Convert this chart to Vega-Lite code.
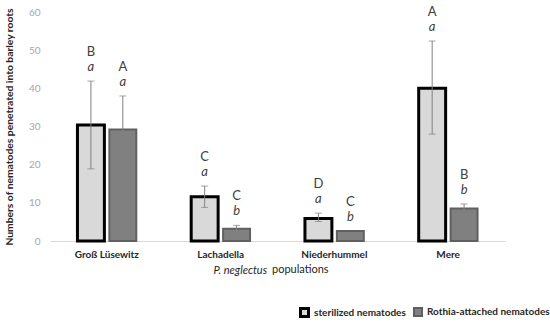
{
  "$schema": "https://vega.github.io/schema/vega-lite/v6.json",
  "width": 455,
  "height": 229,
  "autosize": {"type": "none"},
  "padding": {"left": 50, "top": 12, "right": 45, "bottom": 87},
  "config": {
    "view": {"stroke": null}, "font": "Lato",
    "axisY": {
      "title": "Numbers of nematodes penetrated into barley roots", "values": [0, 10, 20, 30, 40, 50, 60],
      "domain": false, "ticks": false, "grid": false, "labelColor": "#a6a6a6", "labelFontSize": 10,
      "labelPadding": 10, "titleFontSize": 10.3, "titleFontWeight": "bold", "titleColor": "#262626", "titlePadding": 14
    }
  },
  "title": {"text": "populations", "orient": "bottom", "anchor": "start", "frame": "group", "dx": 222, "dy": -63, "fontSize": 11, "fontWeight": "normal", "color": "#262626", "font": "Lato"},
  "data": {"values": [
    {"pop": "Groß Lüsewitz", "type": "sterilized nematodes", "mean": 30.4, "lo": 18.9, "hi": 41.9, "up": "B", "low": "a"},
    {"pop": "Groß Lüsewitz", "type": "Rothia-attached nematodes", "mean": 29.2, "lo": 20.9, "hi": 38, "up": "A", "low": "a"},
    {"pop": "Lachadella", "type": "sterilized nematodes", "mean": 11.6, "lo": 8.8, "hi": 14.4, "up": "C", "low": "a"},
    {"pop": "Lachadella", "type": "Rothia-attached nematodes", "mean": 3.2, "lo": 2.3, "hi": 4.1, "up": "C", "low": "b"},
    {"pop": "Niederhummel", "type": "sterilized nematodes", "mean": 5.9, "lo": 5.1, "hi": 7.3, "up": "D", "low": "a"},
    {"pop": "Niederhummel", "type": "Rothia-attached nematodes", "mean": 2.6, "lo": 2.6, "hi": 2.6, "up": "C", "low": "b"},
    {"pop": "Mere", "type": "sterilized nematodes", "mean": 40, "lo": 28, "hi": 52.4, "up": "A", "low": "a"},
    {"pop": "Mere", "type": "Rothia-attached nematodes", "mean": 8.5, "lo": 7.3, "hi": 9.7, "up": "B", "low": "b"}
  ]},
  "encoding": {
    "x": {
      "field": "pop", "type": "nominal",
      "sort": ["Groß Lüsewitz", "Lachadella", "Niederhummel", "Mere"],
      "scale": {"paddingInner": 0, "paddingOuter": 0},
      "axis": {
        "title": "P. neglectus", "titleFontStyle": "italic", "titleFontWeight": "normal", "titleFontSize": 11,
        "titleColor": "#262626", "titleAlign": "left", "titleX": 163, "titleY": 29, "titleBaseline": "middle",
        "domainColor": "#d9d9d9", "ticks": false, "labelAngle": 0, "labelFontWeight": "bold",
        "labelFontSize": 10, "labelColor": "#262626", "labelPadding": 8
      }
    },
    "xOffset": {
      "field": "type", "type": "nominal",
      "sort": ["sterilized nematodes", "Rothia-attached nematodes"],
      "scale": {"paddingInner": 0.156, "paddingOuter": 0.86}
    }
  },
  "layer": [
    {
      "mark": {"type": "bar"},
      "encoding": {
        "y": {"field": "mean", "type": "quantitative", "scale": {"domain": [0, 60]}, "title": "Numbers of nematodes penetrated into barley roots"},
        "fill": {
          "field": "type", "type": "nominal",
          "sort": ["sterilized nematodes", "Rothia-attached nematodes"],
          "scale": {"domain": ["sterilized nematodes", "Rothia-attached nematodes"], "range": ["#d9d9d9", "#808080"]},
          "legend": {
            "orient": "none", "legendX": 249, "legendY": 295, "direction": "horizontal", "title": null,
            "symbolType": "square", "symbolSize": 64, "labelFontSize": 10, "labelFontWeight": "bold",
            "labelColor": "#262626", "columnPadding": 4, "labelOffset": 4, "gridAlign": "none", "labelLimit": 300
          }
        },
        "stroke": {
          "field": "type", "type": "nominal",
          "scale": {"domain": ["sterilized nematodes", "Rothia-attached nematodes"], "range": ["#000000", "#606060"]}
        },
        "strokeWidth": {
          "field": "type", "type": "nominal",
          "scale": {"domain": ["sterilized nematodes", "Rothia-attached nematodes"], "range": [3, 2]}
        }
      }
    },
    {
      "transform": [{"filter": "datum.hi > datum.lo"}],
      "mark": {"type": "rule", "color": "#808080", "strokeWidth": 1},
      "encoding": {"y": {"field": "lo", "type": "quantitative", "title": "Numbers of nematodes penetrated into barley roots"}, "y2": {"field": "hi"}}
    },
    {
      "transform": [{"filter": "datum.hi > datum.lo"}],
      "mark": {"type": "tick", "color": "#808080", "size": 7, "thickness": 1},
      "encoding": {"y": {"field": "lo", "type": "quantitative", "title": "Numbers of nematodes penetrated into barley roots"}}
    },
    {
      "transform": [{"filter": "datum.hi > datum.lo"}],
      "mark": {"type": "tick", "color": "#808080", "size": 7, "thickness": 1},
      "encoding": {"y": {"field": "hi", "type": "quantitative", "title": "Numbers of nematodes penetrated into barley roots"}}
    },
    {
      "mark": {"type": "text", "fontSize": 13, "fontStyle": "italic", "color": "#404040", "dy": -14, "baseline": "middle"},
      "encoding": {"y": {"field": "hi", "type": "quantitative", "title": "Numbers of nematodes penetrated into barley roots"}, "text": {"field": "low"}}
    },
    {
      "mark": {"type": "text", "fontSize": 13, "color": "#404040", "dy": -29, "baseline": "middle"},
      "encoding": {"y": {"field": "hi", "type": "quantitative", "title": "Numbers of nematodes penetrated into barley roots"}, "text": {"field": "up"}}
    }
  ]
}
